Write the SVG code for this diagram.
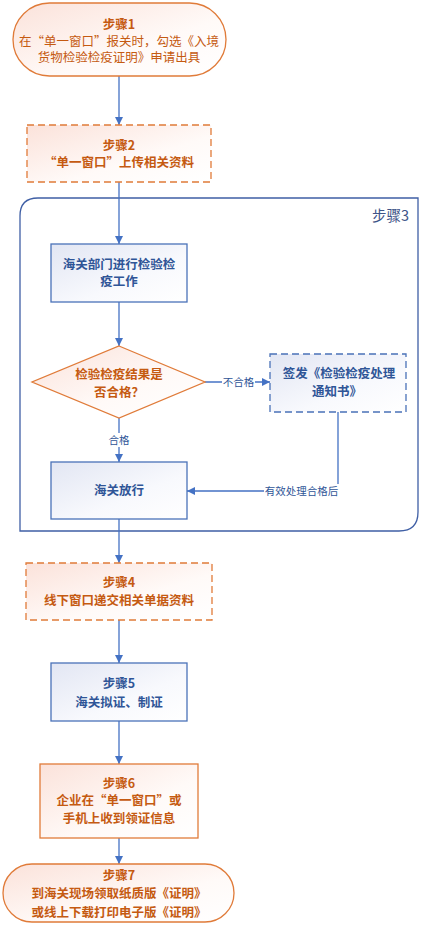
<svg xmlns="http://www.w3.org/2000/svg" width="425" height="926" viewBox="0 0 425 926">
<defs>
<linearGradient id="gO" x1="0" y1="0" x2="1" y2="1"><stop offset="0" stop-color="#fbe2da"/><stop offset="0.6" stop-color="#fffaf8"/><stop offset="1" stop-color="#ffffff"/></linearGradient>
<linearGradient id="gB" x1="0" y1="0" x2="1" y2="1"><stop offset="0" stop-color="#e2e6f3"/><stop offset="0.6" stop-color="#f8f9fd"/><stop offset="1" stop-color="#ffffff"/></linearGradient>
<marker id="ah" viewBox="0 0 10 10" refX="10" refY="5" markerWidth="8" markerHeight="8" markerUnits="userSpaceOnUse" orient="auto"><path d="M0,0 L10,5 L0,10 Z" fill="#4472c4"/></marker>
<style>
text{font-family:"Noto Sans CJK SC","Noto Sans",sans-serif;text-anchor:middle}
.o{fill:#c55a11;font-size:12.5px;font-weight:bold}
.on{fill:#c55a11;font-size:12.5px}
.b{fill:#2f5597;font-size:12.5px;font-weight:bold}
.lbl{fill:#2f5597;font-size:10.5px}
.os{fill:url(#gO);stroke:#e07b39;stroke-width:1.3}
.bs{fill:url(#gB);stroke:#4a72b8;stroke-width:1.3}
.c{fill:none;stroke:#4472c4;stroke-width:1.3}
</style>
</defs>
<g id="step3">
<path d="M38 198 H418 V512 Q418 531 399 531 H20 V216 Q20 198 38 198 Z" fill="none" stroke="#3f5fa5" stroke-width="1.3"/>
<text x="409" y="221" style="text-anchor:end;font-size:14.5px;fill:#3e5488">步骤3</text>
</g>
<g id="connectors">
<line class="c" x1="119" y1="76" x2="119" y2="125" marker-end="url(#ah)"/>
<line class="c" x1="119" y1="182" x2="119" y2="244" marker-end="url(#ah)"/>
<line class="c" x1="119" y1="302" x2="119" y2="346" marker-end="url(#ah)"/>
<line class="c" x1="205" y1="382" x2="270" y2="382" marker-end="url(#ah)"/>
<rect x="222" y="375" width="33" height="14" fill="#fff"/>
<text class="lbl" x="238.5" y="386">不合格</text>
<line class="c" x1="119" y1="418" x2="119" y2="462" marker-end="url(#ah)"/>
<rect x="107" y="433" width="24" height="14" fill="#fff"/>
<text class="lbl" x="119" y="444">合格</text>
<polyline class="c" points="338,412 338,491 187,491" marker-end="url(#ah)"/>
<rect x="264" y="484" width="75" height="14" fill="#fff"/>
<text class="lbl" x="301.5" y="495">有效处理合格后</text>
<line class="c" x1="119" y1="519" x2="119" y2="563" marker-end="url(#ah)"/>
<line class="c" x1="119" y1="620" x2="119" y2="663" marker-end="url(#ah)"/>
<line class="c" x1="119" y1="721" x2="119" y2="764" marker-end="url(#ah)"/>
<line class="c" x1="119" y1="838" x2="119" y2="864" marker-end="url(#ah)"/>
</g>
<g id="step1">
<rect class="os" x="13" y="3" width="213" height="73" rx="36.5" stroke="#eaa987"/>
<text class="o" x="119" y="29">步骤1</text>
<text class="on" x="119" y="45.5">在“单一窗口”报关时，勾选《入境</text>
<text class="on" x="119" y="61.5">货物检验检疫证明》申请出具</text>
</g>
<g id="step2">
<rect class="os" x="27" y="125" width="184" height="57" stroke-dasharray="7,4"/>
<text class="o" x="119" y="149.5">步骤2</text>
<text class="o" x="119" y="167">“单一窗口”上传相关资料</text>
</g>
<g id="inspect">
<rect class="bs" x="51" y="244" width="136" height="58"/>
<text class="b" x="119" y="268.5">海关部门进行检验检</text>
<text class="b" x="119" y="285.5">疫工作</text>
</g>
<g id="decision">
<polygon class="os" points="119,346 205,382 119,418 32,382" fill="#fff" stroke-width="1.1"/>
<text class="o" x="119" y="378.5">检验检疫结果是</text>
<text class="o" x="119" y="396.5">否合格？</text>
</g>
<g id="notice">
<rect class="bs" x="270" y="354" width="136" height="58" stroke="#7f9fd6" stroke-dasharray="7,4"/>
<text class="b" x="339" y="377.5">签发《检验检疫处理</text>
<text class="b" x="337" y="396">通知书》</text>
</g>
<g id="release">
<rect class="bs" x="51" y="462" width="136" height="57"/>
<text class="b" x="119" y="494.5">海关放行</text>
</g>
<g id="step4">
<rect class="os" x="26" y="563" width="186" height="57" stroke-dasharray="7,4"/>
<text class="o" x="119" y="586.5">步骤4</text>
<text class="o" x="119" y="604.5">线下窗口递交相关单据资料</text>
</g>
<g id="step5">
<rect class="bs" x="51" y="663" width="136" height="58"/>
<text class="b" x="119" y="687.5">步骤5</text>
<text class="b" x="119" y="706.5">海关拟证、制证</text>
</g>
<g id="step6">
<rect class="os" x="40" y="764" width="158" height="74"/>
<text class="o" x="119" y="787.5">步骤6</text>
<text class="o" x="119" y="804.5">企业在“单一窗口”或</text>
<text class="o" x="119" y="822.5">手机上收到领证信息</text>
</g>
<g id="step7">
<rect class="os" x="3" y="864" width="231" height="58" rx="29"/>
<text class="o" x="119" y="879.5">步骤7</text>
<text class="o" x="119" y="897.5">到海关现场领取纸质版《证明》</text>
<text class="o" x="119" y="916.5">或线上下载打印电子版《证明》</text>
</g>
</svg>
